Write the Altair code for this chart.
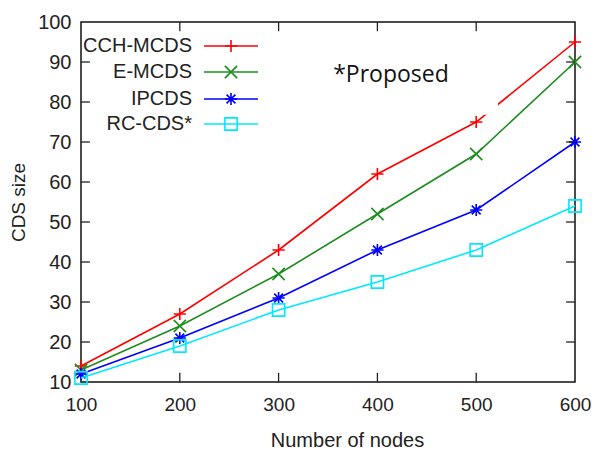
import altair as alt
import pandas as pd

# ---- data ----
nodes = [100, 200, 300, 400, 500, 600]
series_names = ["CCH-MCDS", "E-MCDS", "IPCDS", "RC-CDS*"]
cch_mcds = [14, 27, 43, 62, 75, 95]
e_mcds = [13, 24, 37, 52, 67, 90]
ipcds = [12, 21, 31, 43, 53, 70]
rc_cds = [11, 19, 28, 35, 43, 54]
series_values = [cch_mcds, e_mcds, ipcds, rc_cds]

x_tick_values = [100, 200, 300, 400, 500, 600]
y_tick_values = [10, 20, 30, 40, 50, 60, 70, 80, 90, 100]

# white text-box behind "*Proposed" that hides part of the red line
box_x = [310]
box_x2 = [522]
box_y = [76.8]
box_y2 = [95]

# ---- styling ----
colors = ["#ff0000", "#1e8c1e", "#0000ff", "#00e8ff"]
shapes = [
    "M-1,0L1,0M0,-1L0,1",
    "M-1,-1L1,1M-1,1L1,-1",
    "M-1,0L1,0M0,-1L0,1M-0.72,-0.72L0.72,0.72M-0.72,0.72L0.72,-0.72",
    "M-1,-1L1,-1L1,1L-1,1Z",
]
FONT = "Liberation Sans"
FS = 20
W, H = 494, 360
PAD_L, PAD_T, PAD_R, PAD_B = 73, 14, 17, 67
XDOM = [100, 600]
YDOM = [10, 100]
TLX = 9      # tick length in x data units (~9px)
TLY = 2.3    # tick length in y data units (~9px)

xscale = alt.Scale(domain=XDOM, nice=False, zero=False)
yscale = alt.Scale(domain=YDOM, nice=False, zero=False)

xaxis = alt.Axis(values=x_tick_values, ticks=False, domain=False, grid=False,
                 labelFontSize=19, labelFont=FONT, labelColor="#222",
                 labelPadding=13, labelOverlap=False, title="Number of nodes",
                 titleFont=FONT, titleFontSize=FS, titleFontWeight="normal",
                 titleColor="#222", titleX=266, titleY=58, titleBaseline="middle",
                 titleAnchor="start", titleAlign="center", labelFlush=False)
yaxis = alt.Axis(values=y_tick_values, ticks=False, domain=False, grid=False,
                 labelFontSize=FS, labelFont=FONT, labelColor="#222",
                 labelPadding=10, labelOverlap=False, title="CDS size",
                 titleFont=FONT, titleFontSize=FS - 1, titleFontWeight="normal",
                 titleColor="#222", titleX=-63, titleY=180, titleBaseline="middle",
                 titleAngle=-90, titleAlign="center", titleAnchor="start",
                 labelFlush=False)

layers = []

# series lines and markers
for name, vals, col, shp in zip(series_names, series_values, colors, shapes):
    df = pd.DataFrame({"nodes": nodes, "size": vals, "series": name})
    base = alt.Chart(df)
    line = base.mark_line(color=col, strokeWidth=1.6, clip=False).encode(
        x=alt.X("nodes:Q", scale=xscale, axis=xaxis),
        y=alt.Y("size:Q", scale=yscale, axis=yaxis),
    )
    pts = base.mark_point(shape=shp, filled=False, size=150, strokeWidth=1.6,
                          color=col, opacity=1, clip=False).encode(
        x=alt.X("nodes:Q", scale=xscale, axis=xaxis),
        y=alt.Y("size:Q", scale=yscale, axis=yaxis),
    )
    layers += [line, pts]

# white box for the annotation
box_df = pd.DataFrame({"x": box_x, "x2": box_x2, "y": box_y, "y2": box_y2})
box = alt.Chart(box_df).mark_rect(color="white").encode(
    x=alt.X("x:Q", scale=xscale, axis=xaxis), x2="x2:Q",
    y=alt.Y("y:Q", scale=yscale, axis=yaxis), y2="y2:Q",
)
layers.append(box)

# inward tick marks on all four sides
tick_rows = []
for v in y_tick_values[1:-1]:
    tick_rows.append({"x": XDOM[0], "x2": XDOM[0] + TLX, "y": v, "y2": v})
    tick_rows.append({"x": XDOM[1] - TLX, "x2": XDOM[1], "y": v, "y2": v})
for v in x_tick_values[1:-1]:
    tick_rows.append({"x": v, "x2": v, "y": YDOM[0], "y2": YDOM[0] + TLY})
    tick_rows.append({"x": v, "x2": v, "y": YDOM[1] - TLY, "y2": YDOM[1]})
ticks = alt.Chart(pd.DataFrame(tick_rows)).mark_rule(color="#222", strokeWidth=1.3).encode(
    x=alt.X("x:Q", scale=xscale, axis=xaxis), x2="x2:Q",
    y=alt.Y("y:Q", scale=yscale, axis=yaxis), y2="y2:Q",
)
layers.append(ticks)

# annotation text
note = alt.Chart(pd.DataFrame({"t": ["*Proposed"]})).mark_text(
    font="Open Sans", fontSize=23, color="#111", align="center", baseline="middle"
).encode(text="t:N", x=alt.value(310), y=alt.value(53))
layers.append(note)

# legend (gnuplot style: label, then line with symbol)
row_y = [24, 50, 77, 102]
for name, col, shp, ry in zip(series_names, colors, shapes, row_y):
    ldf = pd.DataFrame({"label": [name]})
    lab = alt.Chart(ldf).mark_text(font=FONT, fontSize=FS, color="#222",
                                   align="right", baseline="middle").encode(
        text="label:N", x=alt.value(111), y=alt.value(ry))
    seg = alt.Chart(ldf).mark_rule(color=col, strokeWidth=1.6).encode(
        x=alt.value(123), x2=alt.value(177), y=alt.value(ry))
    sym = alt.Chart(ldf).mark_point(shape=shp, filled=False, size=150, strokeWidth=1.6,
                                    color=col, opacity=1).encode(
        x=alt.value(150), y=alt.value(ry))
    layers += [lab, seg, sym]

chart = alt.layer(*layers).properties(
    width=W, height=H,
    autosize=alt.AutoSizeParams(type="none"),
    padding={"left": PAD_L, "top": PAD_T, "right": PAD_R, "bottom": PAD_B},
).configure_view(stroke="#111", strokeWidth=1.5).configure_axis(labelOverlap=False)

chart.save("out.html", embed_options={"renderer": "svg", "actions": False})
